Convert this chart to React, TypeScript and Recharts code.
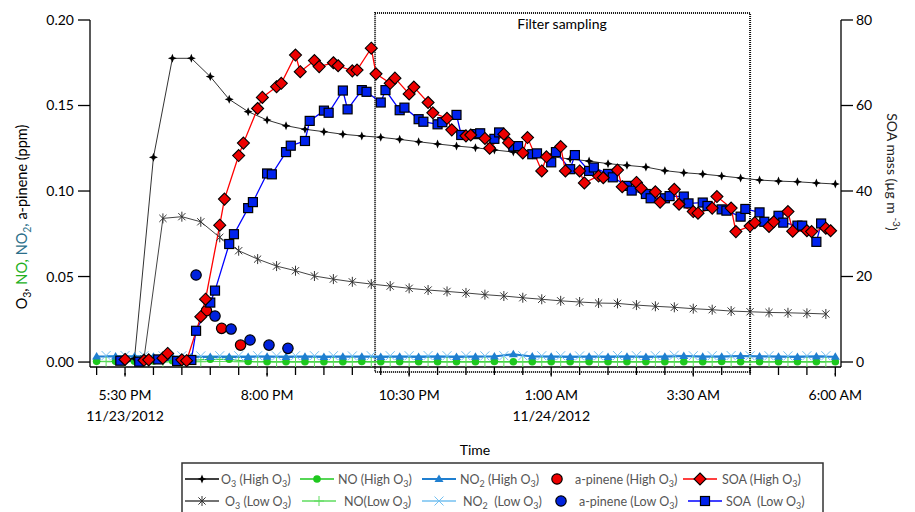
import { LineChart, Line, XAxis, YAxis, ReferenceArea } from "recharts";

const FONT = "Lato, 'Noto Sans', sans-serif";

// x values are minutes after 5:00 PM on 11/23/2012
const tickMinutes = [
  0, 30, 60, 90, 120, 150, 180, 210, 240, 270, 300, 330, 360, 390, 420, 450,
  480, 510, 540, 570, 600, 630, 660, 690, 720, 750, 780,
];
const tickLabels: Record<number, string[]> = {
  30: ["5:30 PM", "11/23/2012"],
  180: ["8:00 PM"],
  330: ["10:30 PM"],
  480: ["1:00 AM", "11/24/2012"],
  630: ["3:30 AM"],
  780: ["6:00 AM"],
};
const ppmTicks = [0, 0.05, 0.1, 0.15, 0.2];
const soaTicks = [0, 20, 40, 60, 80];
const filterWindow = [294, 690];

// [minutes, ppm]
const o3High: [number, number][] = [
  [40, 0.002], [60, 0.1197], [80, 0.1776], [100, 0.1776], [120, 0.1669], [140, 0.1536],
  [160, 0.1464], [180, 0.1415], [200, 0.1382], [220, 0.1361], [240, 0.1347], [260, 0.1332],
  [280, 0.1322], [300, 0.1314], [320, 0.1302], [340, 0.1288], [360, 0.1275], [380, 0.1263],
  [400, 0.1253], [420, 0.124], [440, 0.1228], [460, 0.1211], [480, 0.1201], [500, 0.1187],
  [520, 0.1175], [540, 0.116], [560, 0.115], [580, 0.114], [600, 0.1119], [620, 0.1107],
  [640, 0.1099], [660, 0.1088], [680, 0.1076], [700, 0.1064], [720, 0.1058], [740, 0.1054],
  [760, 0.1047], [780, 0.1041],
];
const o3Low: [number, number][] = [
  [50, 0.002], [70, 0.084], [90, 0.085], [110, 0.082], [130, 0.0729], [150, 0.0651],
  [170, 0.0602], [190, 0.0561], [210, 0.0534], [230, 0.0503], [250, 0.0485], [270, 0.0469],
  [290, 0.0456], [310, 0.0444], [330, 0.0431], [350, 0.0421], [370, 0.0413], [390, 0.0404],
  [410, 0.0394], [430, 0.0386], [450, 0.0376], [470, 0.0367], [490, 0.0358], [510, 0.0351],
  [530, 0.0345], [550, 0.0343], [570, 0.0333], [590, 0.0326], [610, 0.032], [630, 0.0312],
  [650, 0.0306], [670, 0.0298], [690, 0.0294], [710, 0.029], [730, 0.0288], [750, 0.0285],
  [770, 0.0281],
];
const noHigh: [number, number][] = [
  [0, 0.0004], [20, 0.0004], [40, 0.0005], [60, 0.0006], [80, 0.0008], [100, 0.001],
  [120, 0.0016], [140, 0.0016], [160, 0.0003], [180, 0.0002], [200, 0.0002], [220, 0.0002],
  [240, 0.0002], [260, 0.0002], [280, 0.0003], [300, 0.0002], [320, 0.0002], [340, 0.0002],
  [360, 0.0002], [380, 0.0002], [400, 0.0002], [420, 0.0003], [440, 0.0002], [460, 0.0002],
  [480, 0.0002], [500, 0.0002], [520, 0.0002], [540, 0.0002], [560, 0.0002], [580, 0.0002],
  [600, 0.0002], [620, 0.0002], [640, 0.0002], [660, 0.0003], [680, 0.0002], [700, 0.0002],
  [720, 0.0002], [740, 0.0002], [760, 0.0002], [780, 0.0002],
];
const noLow: [number, number][] = [
  [10, 0.0002], [30, 0.0002], [50, 0.0001], [70, 0.0001], [90, 0.0001], [110, 0.0002],
  [130, 0.0003], [150, 0.0002], [170, 0.0001], [190, 0.0], [210, 0.0], [230, 0.0],
  [250, 0.0], [270, 0.0], [290, 0.0], [310, 0.0], [330, 0.0], [350, 0.0],
  [370, 0.0], [390, 0.0], [410, 0.0], [430, 0.0], [450, 0.0], [470, 0.0],
  [490, 0.0], [510, 0.0], [530, 0.0], [550, 0.0], [570, 0.0], [590, 0.0],
  [610, 0.0], [630, 0.0], [650, 0.0], [670, 0.0], [690, 0.0], [710, 0.0],
  [730, 0.0], [750, 0.0], [770, 0.0],
];
const no2High: [number, number][] = [
  [0, 0.0033], [20, 0.0033], [40, 0.0032], [60, 0.0031], [80, 0.003], [100, 0.003],
  [120, 0.0029], [140, 0.003], [160, 0.003], [180, 0.0031], [200, 0.003], [220, 0.0031],
  [240, 0.003], [260, 0.0031], [280, 0.0031], [300, 0.003], [320, 0.0031], [340, 0.003],
  [360, 0.0031], [380, 0.003], [400, 0.0031], [420, 0.0032], [440, 0.0046], [460, 0.0032],
  [480, 0.0031], [500, 0.003], [520, 0.0031], [540, 0.003], [560, 0.0031], [580, 0.003],
  [600, 0.0031], [620, 0.0035], [640, 0.0031], [660, 0.0031], [680, 0.0036], [700, 0.0032],
  [720, 0.0031], [740, 0.003], [760, 0.0033], [780, 0.0031],
];
const no2Low: [number, number][] = [
  [10, 0.0038], [30, 0.0038], [50, 0.0037], [70, 0.0037], [90, 0.0037], [110, 0.0036],
  [130, 0.0037], [150, 0.0037], [170, 0.0037], [190, 0.0036], [210, 0.0037], [230, 0.0037],
  [250, 0.0037], [270, 0.0036], [290, 0.0037], [310, 0.0037], [330, 0.0037], [350, 0.0038],
  [370, 0.0037], [390, 0.0037], [410, 0.0036], [430, 0.0037], [450, 0.0037], [470, 0.0037],
  [490, 0.0037], [510, 0.0036], [530, 0.0037], [550, 0.0038], [570, 0.0037], [590, 0.0037],
  [610, 0.004], [630, 0.0037], [650, 0.0037], [670, 0.0038], [690, 0.0037], [710, 0.0037],
  [730, 0.0036], [750, 0.0037], [770, 0.0037],
];
const pineneHigh: [number, number][] = [[116, 0.030], [132, 0.0197], [152, 0.0099]];
const pineneLow: [number, number][] = [
  [105, 0.0509], [125, 0.0269], [142, 0.0193], [162, 0.0129], [182, 0.0099], [202, 0.008],
];

// [minutes, ug m-3]
const soaHigh: [number, number][] = [
  [30, 0.6], [50, 0.4], [55, 0.5], [70, 0.9], [75, 2.0], [90, 0.5], [95, 0.3],
  [110, 10.6], [115, 14.7], [130, 32.0], [135, 38.1], [150, 48.3], [155, 51.2],
  [170, 59.3], [175, 61.9], [190, 64.4], [195, 65.2], [210, 71.8], [215, 67.9],
  [230, 70.5], [235, 69.1], [250, 70.0], [255, 69.3], [270, 68.1], [275, 68.3],
  [290, 73.4], [295, 67.4], [310, 65.2], [315, 66.4], [330, 62.7], [335, 64.3],
  [350, 60.7], [355, 58.3], [370, 57.0], [375, 54.3], [390, 52.9], [395, 53.1],
  [410, 52.3], [415, 50.0], [430, 53.3], [435, 51.3], [450, 48.9], [455, 52.5],
  [470, 44.7], [475, 48.0], [490, 50.4], [495, 44.7], [510, 44.7], [515, 41.9],
  [530, 43.5], [535, 43.1], [550, 44.9], [555, 41.0], [570, 42.0], [575, 40.6],
  [590, 39.8], [595, 37.4], [610, 40.4], [615, 36.9], [630, 35.2], [635, 34.8],
  [650, 36.0], [655, 38.7], [670, 36.0], [675, 30.5], [690, 31.8], [695, 32.6],
  [710, 31.7], [715, 32.8], [730, 35.2], [735, 30.6], [750, 30.7], [755, 30.5],
  [770, 31.3], [775, 30.7],
];
const soaLow: [number, number][] = [
  [25, 0.3], [45, 0.07], [65, 0.6], [85, 0.23], [100, 0.47], [105, 7.3],
  [120, 13.9], [125, 16.7], [140, 27.6], [145, 29.9], [160, 36.0], [165, 37.4],
  [180, 44.1], [185, 43.9], [200, 49.1], [205, 50.6], [220, 51.7], [225, 56.4],
  [240, 58.8], [245, 58.3], [260, 63.5], [265, 59.1], [280, 63.6], [285, 63.2],
  [300, 60.7], [305, 63.6], [320, 58.9], [325, 59.5], [340, 56.8], [345, 56.2],
  [360, 55.6], [365, 56.1], [380, 57.8], [385, 53.1], [400, 53.3], [405, 53.5],
  [420, 52.2], [425, 53.7], [440, 50.4], [445, 50.5], [460, 48.6], [465, 48.8],
  [480, 46.7], [485, 49.1], [500, 45.1], [505, 48.4], [520, 44.7], [525, 45.5],
  [540, 44.0], [545, 43.2], [560, 41.2], [565, 40.1], [580, 39.3], [585, 38.3],
  [600, 38.3], [605, 38.8], [620, 38.7], [625, 37.1], [640, 37.3], [645, 36.5],
  [660, 35.7], [665, 35.4], [680, 34.0], [685, 35.8], [700, 35.0], [705, 32.8],
  [720, 34.2], [725, 32.6], [740, 31.9], [745, 31.9], [760, 28.1], [765, 32.4],
];

const GREEN = "#1ec81e";
const LIGHT_GREEN = "#5fdc5f";
const NO2_BLUE = "#1f7fd0";
const LIGHT_BLUE = "#74c0f0";
const RED = "#ff0000";
const BLUE = "#0000ff";

const pts = (a: [number, number][]) => a.map(([t, v]) => ({ t, v }));

type P = { cx: number; cy: number };

const Star4 = ({ cx, cy }: P) => {
  const r = 4.5, q = 1.3;
  return (
    <path
      d={`M${cx},${cy - r}L${cx + q},${cy - q}L${cx + r},${cy}L${cx + q},${cy + q}L${cx},${cy + r}L${cx - q},${cy + q}L${cx - r},${cy}L${cx - q},${cy - q}Z`}
      fill="#000"
    />
  );
};
const Asterisk = ({ cx, cy }: P) => {
  const r = 5, d = 3.6;
  return (
    <path
      d={`M${cx},${cy - r}V${cy + r}M${cx - d},${cy - d}L${cx + d},${cy + d}M${cx - d},${cy + d}L${cx + d},${cy - d}`}
      stroke="#333"
      strokeWidth={1}
      fill="none"
    />
  );
};
const GreenDot = ({ cx, cy }: P) => <circle cx={cx} cy={cy} r={3.8} fill={GREEN} />;
const Plus = ({ cx, cy }: P) => (
  <path d={`M${cx - 5},${cy}H${cx + 5}M${cx},${cy - 5}V${cy + 5}`} stroke={LIGHT_GREEN} strokeWidth={1} />
);
const Triangle = ({ cx, cy }: P) => (
  <path d={`M${cx},${cy - 4.5}L${cx + 4.5},${cy + 3}L${cx - 4.5},${cy + 3}Z`} fill={NO2_BLUE} />
);
const Cross = ({ cx, cy }: P) => (
  <path d={`M${cx - 4.5},${cy - 4.5}L${cx + 4.5},${cy + 4.5}M${cx - 4.5},${cy + 4.5}L${cx + 4.5},${cy - 4.5}`} stroke={LIGHT_BLUE} strokeWidth={1} />
);
const RedCircle = ({ cx, cy }: P) => <circle cx={cx} cy={cy} r={5.2} fill="#ee0000" stroke="#000" strokeWidth={1.2} />;
const BlueCircle = ({ cx, cy }: P) => <circle cx={cx} cy={cy} r={5.2} fill="#0022dd" stroke="#000" strokeWidth={1.2} />;
const Diamond = ({ cx, cy }: P) => {
  const r = 6;
  return (
    <path d={`M${cx},${cy - r}L${cx + r},${cy}L${cx},${cy + r}L${cx - r},${cy}Z`} fill="#ee0000" stroke="#000" strokeWidth={1.1} />
  );
};
const Square = ({ cx, cy }: P) => (
  <rect x={cx - 4.5} y={cy - 4.5} width={9} height={9} fill="#0022ee" stroke="#000" strokeWidth={1.2} />
);

const dotOf = (Shape: (p: P) => any) => (p: any) =>
  <Shape key={`d${p.index}`} cx={p.cx} cy={p.cy} />;

type Seg = { t: string; c?: string; s?: "sub" | "sup" };
function rich(list: Seg[], size: number, base: string) {
  let shift = 0;
  return list.map((g, i) => {
    const target = g.s === "sub" ? size * 0.3 : g.s === "sup" ? -size * 0.45 : 0;
    const el = (
      <tspan key={i} dy={target - shift} fill={g.c ?? base} fontSize={g.s ? size * 0.72 : size}>
        {g.t}
      </tspan>
    );
    shift = target;
    return el;
  });
}

function TimeTick({ x, y, payload }: any) {
  const lines = tickLabels[payload.value];
  if (!lines) return null;
  return (
    <g>
      <line x1={x} x2={x} y1={y - 4} y2={y - 0.5} stroke="#000" strokeWidth={1.3} />
      {lines.map((s, i) => (
        <text key={i} x={x} y={y + 23 + i * 21} textAnchor="middle" fontSize={14} fill="#000" fontFamily={FONT}>
          {s}
        </text>
      ))}
    </g>
  );
}

const legendRows: { x: number; mark: (p: P) => any; line?: string; lw?: number; text: Seg[]; tx: number }[][] = [
  [
    { x: 185, mark: Star4, line: "#000", text: [{ t: "O" }, { t: "3", s: "sub" }, { t: " (High O" }, { t: "3", s: "sub" }, { t: ")" }], tx: 221 },
    { x: 300, mark: GreenDot, line: GREEN, text: [{ t: "NO (High O" }, { t: "3", s: "sub" }, { t: ")" }], tx: 338 },
    { x: 422, mark: Triangle, line: NO2_BLUE, lw: 2, text: [{ t: "NO" }, { t: "2", s: "sub" }, { t: " (High O" }, { t: "3", s: "sub" }, { t: ")" }], tx: 460 },
    { x: 541, mark: RedCircle, text: [{ t: "a-pinene (High O" }, { t: "3", s: "sub" }, { t: ")" }], tx: 575 },
    { x: 683, mark: Diamond, line: RED, text: [{ t: "SOA (High O" }, { t: "3", s: "sub" }, { t: ")" }], tx: 722 },
  ],
  [
    { x: 185, mark: Asterisk, line: "#444", text: [{ t: "O" }, { t: "3", s: "sub" }, { t: " (Low O" }, { t: "3", s: "sub" }, { t: ")" }], tx: 225 },
    { x: 302, mark: Plus, line: LIGHT_GREEN, text: [{ t: "NO(Low O" }, { t: "3", s: "sub" }, { t: ")" }], tx: 344 },
    { x: 422, mark: Cross, line: LIGHT_BLUE, text: [{ t: "NO" }, { t: "2", s: "sub" }, { t: "  (Low O" }, { t: "3", s: "sub" }, { t: ")" }], tx: 463 },
    { x: 545, mark: BlueCircle, text: [{ t: "a-pinene (Low O" }, { t: "3", s: "sub" }, { t: ")" }], tx: 579 },
    { x: 688, mark: Square, line: BLUE, text: [{ t: "SOA  (Low O" }, { t: "3", s: "sub" }, { t: ")" }], tx: 726 },
  ],
];

function Overlay() {
  const rowsY = [479, 501];
  return (
    <svg width={915} height={512} style={{ position: "absolute", left: 0, top: 0, pointerEvents: "none" }} fontFamily={FONT}>
      <text transform="rotate(-90, 27, 217)" x={27} y={217} textAnchor="middle" fontSize={14.5} style={{ whiteSpace: "pre" }}>
        {rich(
          [
            { t: "O", c: "#000" },
            { t: "3", s: "sub", c: "#000" },
            { t: ", ", c: "#000" },
            { t: "NO, ", c: "#22b022" },
            { t: "NO", c: "#2b6f8a" },
            { t: "2", s: "sub", c: "#2b6f8a" },
            { t: ", ", c: "#2b6f8a" },
            { t: "a-pinene (ppm)", c: "#000" },
          ],
          14.5,
          "#000"
        )}
      </text>
      <text transform="rotate(90, 887, 172)" x={887} y={172} textAnchor="middle" fontSize={14} style={{ whiteSpace: "pre" }}>
        {rich([{ t: "SOA mass (µg m " }, { t: "-3", s: "sup" }, { t: ")" }], 14, "#222")}
      </text>
      <text x={475} y={455} textAnchor="middle" fontSize={14} fill="#000">
        Time
      </text>
      <rect x={182} y={463} width={641} height={60} fill="none" stroke="#333" strokeWidth={1.5} />
      {legendRows.map((row, ri) =>
        row.map((it, i) => {
          const y = rowsY[ri];
          const cx = it.line ? it.x + 17 : it.x + 16;
          const Mark = it.mark;
          return (
            <g key={`${ri}-${i}`}>
              {it.line && <line x1={it.x} x2={it.x + 34} y1={y} y2={y} stroke={it.line} strokeWidth={it.lw ?? 1.3} />}
              <Mark cx={cx} cy={y} />
              <text x={it.tx} y={y + 4.5} fontSize={12.5} style={{ whiteSpace: "pre" }}>
                {rich(it.text, 12.5, "#555")}
              </text>
            </g>
          );
        })
      )}
    </svg>
  );
}

const axisTick = { fontSize: 14, fill: "#000", fontFamily: FONT };

export default function App() {
  return (
    <div style={{ position: "absolute", left: 0, top: 0, width: 915, height: 512, background: "#fff", fontFamily: FONT }}>
      <LineChart width={915} height={512} margin={{ top: 20, right: 0, bottom: 0, left: 0 }}>
        <XAxis
          type="number"
          dataKey="t"
          domain={[-7, 786]}
          allowDataOverflow
          ticks={tickMinutes}
          interval={0}
          tick={<TimeTick />}
          tickSize={8}
          height={145}
          axisLine={{ stroke: "#000", strokeWidth: 1.3 }}
          tickLine={{ stroke: "#000", strokeWidth: 1.3 }}
        />
        <YAxis
          yAxisId="ppm"
          type="number"
          domain={[-0.0029, 0.2]}
          allowDataOverflow
          ticks={ppmTicks}
          interval={0}
          tickFormatter={(v: number) => v.toFixed(2)}
          width={90}
          tickSize={12}
          tickMargin={4}
          tick={axisTick}
          axisLine={{ stroke: "#000", strokeWidth: 1.3 }}
          tickLine={{ stroke: "#000", strokeWidth: 1.3 }}
        />
        <YAxis
          yAxisId="soa"
          orientation="right"
          type="number"
          domain={[-1.17, 80]}
          allowDataOverflow
          ticks={soaTicks}
          interval={0}
          width={74}
          tickSize={12}
          tickMargin={3}
          tick={axisTick}
          axisLine={{ stroke: "#000", strokeWidth: 1.3 }}
          tickLine={{ stroke: "#000", strokeWidth: 1.3 }}
        />
        <ReferenceArea
          yAxisId="ppm"
          x1={filterWindow[0]}
          x2={filterWindow[1]}
          y1={-0.00585}
          y2={0.2041}
          ifOverflow="visible"
          fill="none"
          stroke="#111"
          strokeWidth={2}
          strokeDasharray="1 1"
          label={{
            content: () => (
              <text x={562} y={29} textAnchor="middle" fontSize={14} fill="#000" fontFamily={FONT}>
                Filter sampling
              </text>
            ),
          }}
        />
        <Line yAxisId="ppm" data={pts(noLow)} dataKey="v" stroke={LIGHT_GREEN} strokeWidth={1} dot={dotOf(Plus)} activeDot={false} isAnimationActive={false} />
        <Line yAxisId="ppm" data={pts(noHigh)} dataKey="v" stroke={GREEN} strokeWidth={1} dot={dotOf(GreenDot)} activeDot={false} isAnimationActive={false} />
        <Line yAxisId="ppm" data={pts(no2Low)} dataKey="v" stroke={LIGHT_BLUE} strokeWidth={1} dot={dotOf(Cross)} activeDot={false} isAnimationActive={false} />
        <Line yAxisId="ppm" data={pts(no2High)} dataKey="v" stroke={NO2_BLUE} strokeWidth={2} dot={dotOf(Triangle)} activeDot={false} isAnimationActive={false} />
        <Line yAxisId="ppm" data={pts(o3Low)} dataKey="v" stroke="#444" strokeWidth={1} dot={dotOf(Asterisk)} activeDot={false} isAnimationActive={false} />
        <Line yAxisId="ppm" data={pts(o3High)} dataKey="v" stroke="#333" strokeWidth={1} dot={dotOf(Star4)} activeDot={false} isAnimationActive={false} />
        <Line yAxisId="ppm" data={pts(pineneHigh)} dataKey="v" stroke="none" dot={dotOf(RedCircle)} activeDot={false} isAnimationActive={false} />
        <Line yAxisId="ppm" data={pts(pineneLow)} dataKey="v" stroke="none" dot={dotOf(BlueCircle)} activeDot={false} isAnimationActive={false} />
        <Line yAxisId="soa" data={pts(soaLow)} dataKey="v" stroke={BLUE} strokeWidth={1.3} dot={dotOf(Square)} activeDot={false} isAnimationActive={false} />
        <Line yAxisId="soa" data={pts(soaHigh)} dataKey="v" stroke={RED} strokeWidth={1.3} dot={dotOf(Diamond)} activeDot={false} isAnimationActive={false} />
      </LineChart>
      <Overlay />
    </div>
  );
}
